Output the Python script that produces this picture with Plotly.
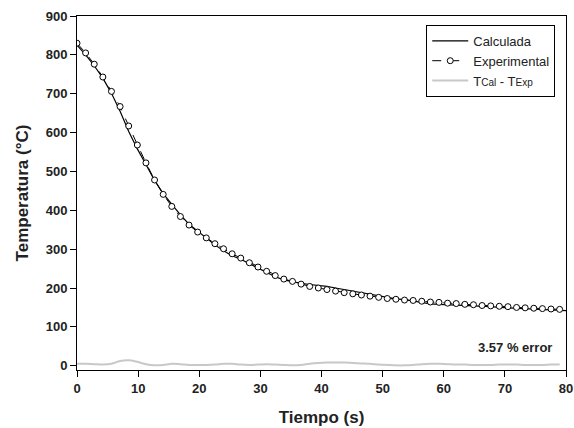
import plotly.graph_objects as go

# Tiempo de muestreo (s)
tiempo = [0.00, 1.41, 2.82, 4.23, 5.64, 7.05, 8.46, 9.87, 11.28, 12.69,
          14.10, 15.51, 16.92, 18.33, 19.74, 21.15, 22.56, 23.97, 25.38, 26.79,
          28.20, 29.61, 31.02, 32.43, 33.84, 35.25, 36.66, 38.07, 39.48, 40.89,
          42.30, 43.71, 45.12, 46.53, 47.94, 49.35, 50.76, 52.17, 53.58, 54.99,
          56.40, 57.81, 59.22, 60.63, 62.04, 63.45, 64.86, 66.27, 67.68, 69.09,
          70.50, 71.91, 73.32, 74.73, 76.14, 77.55, 78.96]

# Temperatura medida (°C)
t_exp = [830, 805, 776, 743, 706, 667, 617, 568, 522, 478,
         441, 410, 384, 362, 344, 329, 314, 301, 288, 277,
         265, 254, 243, 232, 223, 217, 210, 204, 200, 196,
         192, 188, 185, 182, 179, 176, 173, 171, 169, 168,
         166, 164, 163, 161, 160, 158, 157, 155, 154, 153,
         152, 150, 149, 148, 147, 146, 145]

# Temperatura calculada (°C), mismos instantes
t_cal = [825, 800, 772, 740, 701, 655, 603, 558, 518, 477,
         443, 415, 388, 364, 346, 327, 311, 296, 283, 274,
         263, 251, 239, 229, 221, 216, 212, 209, 207, 204,
         200, 196, 192, 188, 184, 179, 175, 172, 170, 166,
         162, 159, 158, 157, 157, 155, 155, 153, 152, 150,
         149, 147, 147, 146, 145, 143, 142]

# Cierre de la curva calculada en el extremo del eje
tiempo_fin = 80.0
t_cal_fin = 142

error_txt = "3.57 % error"

diferencia = [abs(c - e) for c, e in zip(t_cal, t_exp)]

FONT = "Liberation Sans, Arial, sans-serif"
TXT = "#222222"

fig = go.Figure()

fig.add_trace(go.Scatter(
    x=tiempo + [tiempo_fin], y=t_cal + [t_cal_fin],
    mode="lines", name="Calculada",
    line=dict(color="black", width=1.2),
))

fig.add_trace(go.Scatter(
    x=tiempo, y=t_exp,
    mode="lines+markers", name="Experimental",
    line=dict(color="black", width=1, dash="dash"),
    marker=dict(symbol="circle", size=6, color="white",
                line=dict(color="black", width=1)),
))

fig.add_trace(go.Scatter(
    x=tiempo, y=diferencia,
    mode="lines", line_shape="spline",
    name="T<span style='font-size:10px'>Cal</span> - T<span style='font-size:10px'>Exp</span>",
    line=dict(color="#c8c8c8", width=2),
))

fig.add_annotation(
    x=78.0, y=48, xref="x", yref="y",
    text="<b>" + error_txt + "</b>", showarrow=False,
    xanchor="right", yanchor="middle",
    font=dict(family=FONT, size=13, color=TXT),
)

axis_common = dict(
    showline=True, linecolor="black", linewidth=1, mirror=True,
    ticks="outside", ticklen=6, tickcolor="black", tickwidth=1,
    showgrid=False, zeroline=False, automargin=False,
    tickfont=dict(family=FONT, size=13, color=TXT, weight="bold"),
)

fig.update_layout(
    width=574, height=428,
    margin=dict(l=77, r=8, t=16, b=58),
    paper_bgcolor="white", plot_bgcolor="white",
    font=dict(family=FONT, color=TXT),
    xaxis=dict(
        range=[0, 80], tickvals=[0, 10, 20, 30, 40, 50, 60, 70, 80],
        title=dict(text="<b>Tiempo (s)</b>", standoff=16,
                   font=dict(family=FONT, size=17, color=TXT)),
        **axis_common,
    ),
    yaxis=dict(
        range=[-11, 900], tickvals=[0, 100, 200, 300, 400, 500, 600, 700, 800, 900],
        title=dict(text="<b>Temperatura (°C)</b>", standoff=12,
                   font=dict(family=FONT, size=17, color=TXT)),
        **axis_common,
    ),
    legend=dict(
        x=0.978, y=0.975, xanchor="right", yanchor="top",
        bgcolor="white", bordercolor="black", borderwidth=1,
        font=dict(family=FONT, size=13, color=TXT),
        tracegroupgap=0, itemwidth=36,
    ),
    showlegend=True,
)

fig.write_html("out.html")
